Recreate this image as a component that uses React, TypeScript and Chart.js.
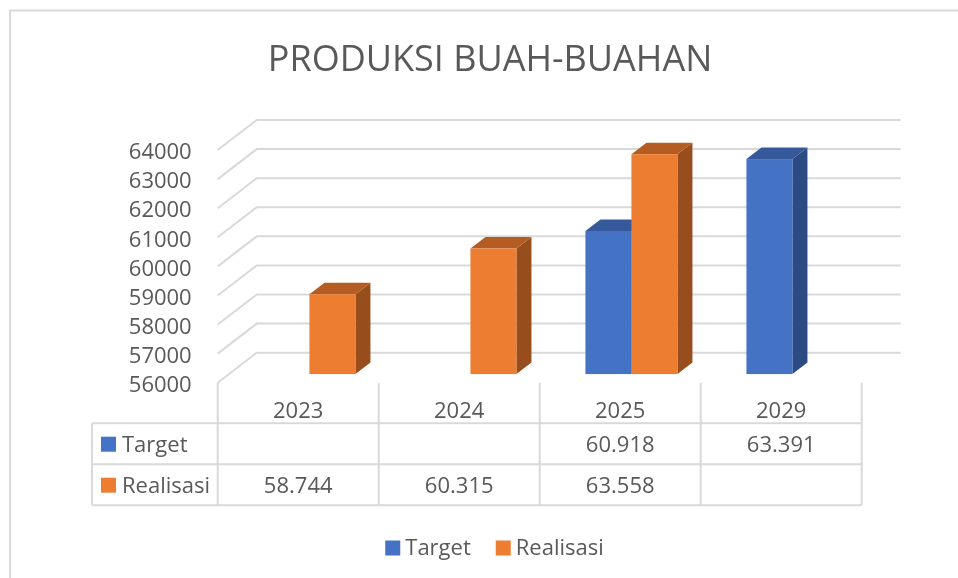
import { useEffect, useRef } from "react";
import { Chart, registerables } from "chart.js";

Chart.register(...registerables);

const TITLE = "PRODUKSI BUAH-BUAHAN";
const categories = ["2023", "2024", "2025", "2029"];
const seriesNames = ["Target", "Realisasi"];
const targetValues: (number | null)[] = [null, null, 60918, 63391];
const realisasiValues: (number | null)[] = [58744, 60315, 63558, null];
const yTicks = { min: 56000, max: 64000, step: 1000 };

const FONT = "'Open Sans', 'Noto Sans', sans-serif";
const TEXT = "#595959";
const GRID = "#d9d9d9";
const FACE = [
  { front: "#4472C4", top: "#36599B", side: "#2C4B82" },
  { front: "#ED7D31", top: "#B45C22", side: "#984D1C" },
];
// full wall depth (px) and bar depth placement (fraction of wall depth)
const DX = 39;
const DY = 30;
const F0 = 0.288;
const F1 = 0.673;

function fmt(n: number) {
  return String(n).replace(/\B(?=(\d{3})+(?!\d))/g, ".");
}

const threeD = {
  id: "threeD",
  beforeDraw(chart: any) {
    const { ctx } = chart;
    ctx.save();
    ctx.strokeStyle = GRID;
    ctx.lineWidth = 2;
    ctx.strokeRect(10, 10.5, 1200, 1200);
    ctx.restore();
  },
  beforeDatasetsDraw(chart: any) {
    const { ctx, chartArea: ca } = chart;
    const y = chart.scales.y;
    ctx.save();
    ctx.strokeStyle = GRID;
    ctx.lineWidth = 2;
    for (let v = yTicks.min; v <= yTicks.max; v += yTicks.step) {
      const yf = y.getPixelForValue(v);
      ctx.beginPath();
      ctx.moveTo(ca.left, yf);
      ctx.lineTo(ca.left + DX, yf - DY);
      ctx.lineTo(ca.right + DX, yf - DY);
      ctx.stroke();
    }
    const floor = y.getPixelForValue(yTicks.min);
    const fx = DX * F0, fy = DY * F0;
    const dx = DX * (F1 - F0), dy = DY * (F1 - F0);
    for (let i = 0; i < categories.length; i++) {
      chart.data.datasets.forEach((ds: any, di: number) => {
        if (ds.data[i] == null) return;
        const el = chart.getDatasetMeta(di).data[i];
        if (!el) return;
        const p = el.getProps(["x", "y", "base", "width"], true);
        const x0 = p.x - p.width / 2 + fx;
        const x1 = p.x + p.width / 2 + fx;
        const yt = p.y - fy;
        const yb = Math.min(p.base, floor) - fy;
        const c = FACE[di];
        ctx.fillStyle = c.side;
        ctx.beginPath();
        ctx.moveTo(x1, yt);
        ctx.lineTo(x1 + dx, yt - dy);
        ctx.lineTo(x1 + dx, yb - dy);
        ctx.lineTo(x1, yb);
        ctx.closePath();
        ctx.fill();
        ctx.fillStyle = c.top;
        ctx.beginPath();
        ctx.moveTo(x0, yt);
        ctx.lineTo(x0 + dx, yt - dy);
        ctx.lineTo(x1 + dx, yt - dy);
        ctx.lineTo(x1, yt);
        ctx.closePath();
        ctx.fill();
        ctx.fillStyle = c.front;
        ctx.fillRect(x0, yt, x1 - x0, yb - yt);
      });
    }
    ctx.restore();
    return false;
  },
  afterDraw(chart: any) {
    const { ctx, chartArea: ca } = chart;
    const x = chart.scales.x;
    ctx.save();
    // title
    ctx.fillStyle = TEXT;
    ctx.font = `36px ${FONT}`;
    ctx.textAlign = "center";
    ctx.textBaseline = "alphabetic";
    ctx.fillText(TITLE, 490, 70.5);

    // data table
    const colW = (ca.right - ca.left) / categories.length;
    const tTop = ca.bottom;
    const hdrBottom = tTop + 40.5;
    const rowH = 41;
    const tLeft = 92;
    const tBottom = hdrBottom + rowH * seriesNames.length;
    ctx.strokeStyle = GRID;
    ctx.lineWidth = 2;
    ctx.beginPath();
    for (let i = 0; i <= categories.length; i++) {
      const xl = ca.left + i * colW;
      ctx.moveTo(xl, tTop);
      ctx.lineTo(xl, tBottom);
    }
    for (let r = 0; r <= seriesNames.length; r++) {
      const yl = hdrBottom + r * rowH;
      ctx.moveTo(tLeft, yl);
      ctx.lineTo(ca.right, yl);
    }
    ctx.moveTo(tLeft, hdrBottom);
    ctx.lineTo(tLeft, tBottom);
    ctx.stroke();

    ctx.font = `22px ${FONT}`;
    ctx.fillStyle = TEXT;
    ctx.textAlign = "center";
    categories.forEach((c, i) => {
      ctx.fillText(c, x.getPixelForValue(i), hdrBottom - 5);
    });
    chart.data.datasets.forEach((ds: any, di: number) => {
      const base = hdrBottom + di * rowH + 29;
      ds.data.forEach((v: number | null, i: number) => {
        if (v == null) return;
        ctx.fillStyle = TEXT;
        ctx.textAlign = "center";
        ctx.fillText(fmt(v), x.getPixelForValue(i), base);
      });
      ctx.fillStyle = FACE[di].front;
      ctx.fillRect(101, base - 15.5, 15, 15);
      ctx.fillStyle = TEXT;
      ctx.textAlign = "left";
      ctx.fillText(ds.label, 122, base);
    });

    // legend
    const gap = 5, sq = 15, spacing = 25;
    const w0 = ctx.measureText(seriesNames[0]).width;
    const w1 = ctx.measureText(seriesNames[1]).width;
    const total = sq + gap + w0 + spacing + sq + gap + w1;
    let lx = 494.5 - total / 2;
    const lb = 555;
    seriesNames.forEach((n, i) => {
      const w = i === 0 ? w0 : w1;
      ctx.fillStyle = FACE[i].front;
      ctx.fillRect(lx, lb - 14.5, sq, sq);
      ctx.fillStyle = TEXT;
      ctx.textAlign = "left";
      ctx.fillText(n, lx + sq + gap, lb);
      lx += sq + gap + w + spacing;
    });
    ctx.restore();
  },
};

export default function App() {
  const ref = useRef<HTMLCanvasElement | null>(null);
  useEffect(() => {
    document.body.style.margin = "0";
    const canvas = ref.current!;
    const chart = new Chart(canvas, {
      type: "bar",
      data: {
        labels: categories,
        datasets: [
          { label: seriesNames[0], data: targetValues, backgroundColor: FACE[0].front },
          { label: seriesNames[1], data: realisasiValues, backgroundColor: FACE[1].front },
        ],
      },
      options: {
        animation: false,
        responsive: false,
        devicePixelRatio: 1,
        layout: { padding: { top: 150, bottom: 195.3, left: 0, right: 96.3 } },
        datasets: { bar: { categoryPercentage: 0.5714, barPercentage: 1 } },
        plugins: { legend: { display: false }, title: { display: false }, tooltip: { enabled: false } },
        scales: {
          x: { display: false },
          y: {
            min: yTicks.min,
            max: yTicks.max,
            afterFit: (s: any) => { s.width = 217.7; },
            grid: { display: false, drawTicks: false },
            border: { display: false },
            ticks: {
              stepSize: yTicks.step,
              autoSkip: false,
              padding: 26,
              labelOffset: 3,
              color: TEXT,
              font: { family: FONT, size: 22 },
              callback: (v: any) => String(v),
            },
          },
        },
      },
      plugins: [threeD],
    });
    return () => chart.destroy();
  }, []);
  return (
    <div style={{ width: 958, height: 578 }}>
      <canvas ref={ref} width={958} height={578} />
    </div>
  );
}
